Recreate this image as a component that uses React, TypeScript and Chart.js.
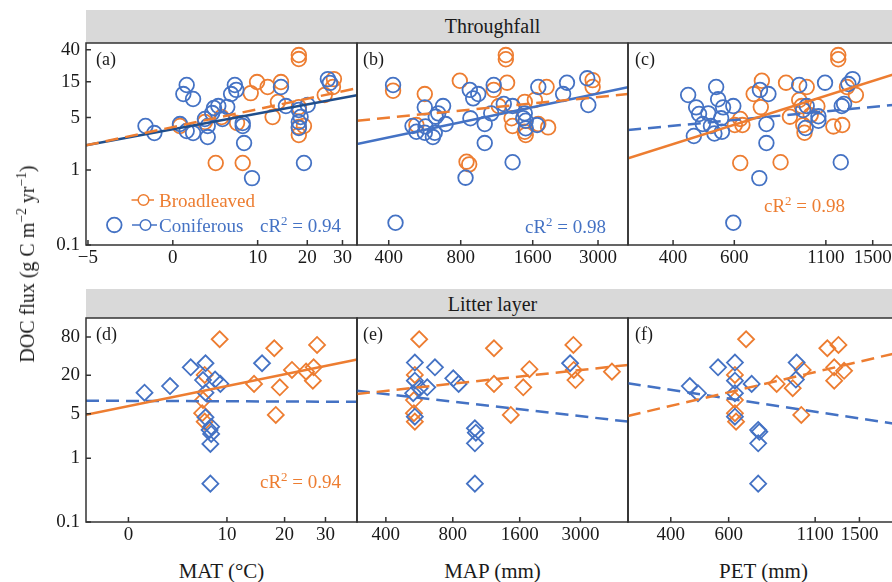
import React, { useEffect, useRef } from "react";
import { Chart, registerables } from "chart.js";

Chart.register(...registerables);

type Pt = [number, number];

const ORANGE = "#ED7D31";
const BLUE = "#4472C4";
const NAVY = "#1F4E8C";
const INK = "#1a1a1a";
const FONT = "'Liberation Serif', 'Times New Roman', serif";

// ---- tick labels ----
const yTicksTop = [0.1, 1, 5, 15, 40];
const yTicksBottom = [0.1, 1, 5, 20, 80];
const matTicksTop = [-5, 0, 10, 20, 30];
const matTicksBottom = [0, 10, 20, 30];
const mapTicks = [400, 800, 1600, 3000];
const petTicks = [400, 600, 1100, 1500];
const MAT_SHIFT = 10; // MAT axis is drawn as log10(MAT + 10)

const stripLabels = ["Throughfall", "Litter layer"];
const xTitles = ["MAT (°C)", "MAP (mm)", "PET (mm)"];
const panelTags = ["(a)", "(b)", "(c)", "(d)", "(e)", "(f)"];
const legendLabels = ["Broadleaved", "Coniferous"];
const cr2Values = ["0.94", "0.98", "0.98", "0.94"];

// ---- Throughfall: MAT ----
const tfMatConif: Pt[] = [
  [-2.0, 3.86], [-1.4, 3.11], [1.2, 13.6], [0.9, 10.3], [1.8, 8.85], [0.6, 4.1], [1.2, 3.31],
  [1.8, 3.11], [3.3, 2.75], [3.3, 3.86], [3.0, 4.79], [3.8, 5.75], [4.0, 6.71], [4.5, 7.13],
  [5.0, 4.79], [5.6, 6.92], [6.1, 10.3], [6.6, 13.6], [6.8, 11.7], [7.7, 4.23], [7.9, 2.29],
  [9.1, 0.78], [14.2, 12.8], [15.2, 7.13], [18, 6.31], [18.4, 5.09], [18, 4.37], [18, 3.63],
  [19.2, 1.24], [20.1, 7.36], [25.5, 16.3], [26.1, 14.5], [-3.8, 0.185], [7.7, 3.86],
];
const tfMatBroad: Pt[] = [
  [18, 34.1], [18, 30.2], [9.9, 14.9], [11.7, 12.8], [14.2, 14.9], [8.9, 10.6], [27.3, 16.3],
  [24.6, 10], [27, 12.8], [13.6, 8.07], [12.6, 5.09], [18, 3.75], [18, 2.93], [19.2, 3.86],
  [4.9, 5.09], [6.9, 4.23], [0.6, 3.86], [4.2, 1.24], [7.7, 1.24], [18, 6.9], [3.0, 4.37],
];
const tfMatBroadFit: Pt[] = [[-5.08, 2.13], [35, 12.3]];
const tfMatConifFit: Pt[] = [[-5.08, 2.13], [35, 9.94]];

// ---- Throughfall: MAP ----
const tfMapConif: Pt[] = [
  [417, 13.6], [427, 0.198], [503, 3.86], [522, 3.24], [566, 6.85], [570, 3.81], [566, 3.14],
  [612, 2.75], [623, 3.14], [629, 5.14], [644, 5.7], [675, 7.13], [692, 4.1], [873, 11.7],
  [902, 9.03], [947, 10.3], [878, 4.89], [838, 0.79], [1008, 4.1], [1008, 2.29], [1099, 13.6],
  [1073, 5.7], [1211, 7.59], [1318, 7.13], [1318, 1.27], [1482, 5.7], [1496, 4.54], [1496, 3.6],
  [1669, 3.98], [1688, 12.8], [2144, 10.3], [2225, 14.6], [2704, 16.7], [2732, 7.36], [1460, 4.9],
];
const tfMapBroad: Pt[] = [
  [417, 11.4], [566, 10.3], [793, 15.5], [1235, 34.1], [1235, 30], [1250, 14.6], [1099, 11.7],
  [846, 1.29], [868, 1.19], [1154, 7.13], [1305, 4.89], [1318, 3.86], [1482, 8.1], [1633, 8.6],
  [1828, 12.8], [1856, 3.7], [1482, 3.24], [1496, 2.93], [1688, 4.1], [2848, 15.8], [2848, 12.8],
  [522, 3.98],
];
const tfMapBroadFit: Pt[] = [[295, 4.54], [4000, 10.3]];
const tfMapConifFit: Pt[] = [[295, 2.22], [4000, 12.7]];

// ---- Throughfall: PET ----
const tfPetConif: Pt[] = [
  [442, 10], [466, 6.85], [475, 5.58], [459, 2.84], [487, 4.1], [505, 5.7], [514, 3.86],
  [532, 12.8], [539, 8.77], [550, 4.89], [526, 3.07], [553, 3.24], [557, 6.85], [596, 7.13],
  [596, 0.198], [708, 0.78], [711, 11.7], [752, 10.3], [742, 4.1], [742, 2.29], [922, 13.6],
  [969, 7.13], [962, 3.63], [1047, 4.54], [1047, 5.2], [1094, 14.6], [1222, 7.13], [1241, 7.59],
  [1214, 1.27], [1313, 16.3], [1277, 14], [946, 6.3],
];
const tfPetBroad: Pt[] = [
  [1194, 34.1], [1194, 30], [720, 15.5], [682, 10.3], [845, 14.6], [969, 12.8], [922, 8.6],
  [937, 7.13], [715, 6.9], [624, 4.8], [602, 3.98], [633, 3.98], [867, 5.14], [955, 3.14],
  [947, 3.98], [1156, 3.81], [1226, 3.98], [1342, 10], [1265, 12.8], [624, 1.24], [815, 1.27],
  [1040, 7.1], [995, 5.4],
];
const tfPetBroadFit: Pt[] = [[297, 1.43], [1784, 19.8]];
const tfPetConifFit: Pt[] = [[297, 3.41], [1784, 7.5]];

// ---- Litter layer: MAT ----
const llMatConif: Pt[] = [
  [1.2, 10.7], [3.4, 13.6], [5.5, 26.8], [7.2, 31], [6.9, 16.9], [8.4, 17.2], [9.1, 14.7],
  [7.2, 10.7], [7.2, 4.4], [7.9, 3.13], [7.9, 2.41], [7.7, 2.78], [7.8, 1.68], [7.8, 0.4], [15.6, 31],
];
const llMatBroad: Pt[] = [
  [9.0, 73.8], [17.9, 53.3], [27.7, 60], [21.6, 24.3], [24.9, 22.9], [26.8, 26.8], [26.6, 16.5],
  [14.2, 14.7], [19, 13], [18.2, 4.78], [7.1, 20.3], [6.9, 8.2], [6.8, 5.1], [7.1, 3.76],
];
const llMatBroadFit: Pt[] = [[-2.58, 4.82], [40, 35.4]];
const llMatConifFit: Pt[] = [[-2.58, 8.0], [40, 7.7]];

// ---- Litter layer: MAP ----
const llMapConif: Pt[] = [
  [540, 31.8], [540, 16.5], [531, 10.5], [567, 12.6], [614, 13], [665, 26.8], [540, 4.5],
  [804, 18], [850, 14.7], [1006, 2.96], [1016, 2.52], [1006, 1.72], [1006, 0.4], [2697, 31],
];
const llMapBroad: Pt[] = [
  [565, 73.8], [1226, 53.3], [2790, 60], [1770, 25], [1660, 13], [1226, 14.7], [1459, 4.78],
  [2800, 24.3], [2850, 16.9], [4160, 22.9], [540, 20.3], [535, 8.2], [535, 5.1], [540, 3.76],
];
const llMapBroadFit: Pt[] = [[296, 10.2], [4923, 29.2]];
const llMapConifFit: Pt[] = [[296, 11.5], [4923, 3.76]];

// ---- Litter layer: PET ----
const llPetConif: Pt[] = [
  [457, 13.6], [484, 10.5], [557, 26.8], [627, 31.8], [627, 16.5], [627, 10.5], [705, 14.7],
  [627, 4.5], [738, 2.78], [744, 2.6], [738, 1.72], [738, 0.4], [966, 31.8], [961, 17.2],
];
const llPetBroad: Pt[] = [
  [678, 73.8], [1198, 53.3], [1295, 60], [1257, 26.8], [1347, 23.6], [1257, 16.5], [1008, 24.3],
  [840, 14.7], [940, 12.6], [998, 4.78], [627, 20.3], [627, 8.2], [627, 5.1], [632, 3.76],
];
const llPetBroadFit: Pt[] = [[296, 4.62], [1982, 45.9]];
const llPetConifFit: Pt[] = [[296, 15], [1982, 3.4]];

// ---- layout (page pixels of each plot area) ----
const COLS = [
  { left: 0, width: 358, showY: true, areaL: 86, areaR: 357 },
  { left: 357, width: 272, showY: false, areaL: 357, areaR: 628 },
  { left: 628, width: 272, showY: false, areaL: 628, areaR: 899 },
];
const ROWS = [
  { top: 23, height: 252, areaT: 43, areaB: 245, yMax: 49.4, yTicks: yTicksTop },
  { top: 298, height: 254, areaT: 318, areaB: 522, yMax: 159, yTicks: yTicksBottom },
];
const PAD_TOP = 20;
const X_AXIS_H = 30;
const Y_AXIS_W = 86;

interface PanelSpec {
  row: number;
  col: number;
  xMin: number;
  xMax: number;
  xTicks: number[];
  shift: number;
  broad: Pt[];
  conif: Pt[];
  broadFit: Pt[];
  conifFit: Pt[];
  broadDash: boolean;
  conifDash: boolean;
  conifFitColor: string;
  marker: string;
  legend?: boolean;
}

const PANELS: PanelSpec[] = [
  { row: 0, col: 0, xMin: -5.08, xMax: 35, xTicks: matTicksTop, shift: MAT_SHIFT, broad: tfMatBroad, conif: tfMatConif, broadFit: tfMatBroadFit, conifFit: tfMatConifFit, broadDash: true, conifDash: false, conifFitColor: NAVY, marker: "circle", legend: true },
  { row: 0, col: 1, xMin: 295, xMax: 4000, xTicks: mapTicks, shift: 0, broad: tfMapBroad, conif: tfMapConif, broadFit: tfMapBroadFit, conifFit: tfMapConifFit, broadDash: true, conifDash: false, conifFitColor: BLUE, marker: "circle" },
  { row: 0, col: 2, xMin: 297, xMax: 1784, xTicks: petTicks, shift: 0, broad: tfPetBroad, conif: tfPetConif, broadFit: tfPetBroadFit, conifFit: tfPetConifFit, broadDash: false, conifDash: true, conifFitColor: BLUE, marker: "circle" },
  { row: 1, col: 0, xMin: -2.58, xMax: 40, xTicks: matTicksBottom, shift: MAT_SHIFT, broad: llMatBroad, conif: llMatConif, broadFit: llMatBroadFit, conifFit: llMatConifFit, broadDash: false, conifDash: true, conifFitColor: BLUE, marker: "rectRot" },
  { row: 1, col: 1, xMin: 296, xMax: 4923, xTicks: mapTicks, shift: 0, broad: llMapBroad, conif: llMapConif, broadFit: llMapBroadFit, conifFit: llMapConifFit, broadDash: true, conifDash: true, conifFitColor: BLUE, marker: "rectRot" },
  { row: 1, col: 2, xMin: 296, xMax: 1982, xTicks: petTicks, shift: 0, broad: llPetBroad, conif: llPetConif, broadFit: llPetBroadFit, conifFit: llPetConifFit, broadDash: true, conifDash: true, conifFitColor: BLUE, marker: "rectRot" },
];

const framePlugin = {
  id: "frameTicks",
  afterDatasetsDraw(chart: any) {
    const { ctx, chartArea: a } = chart;
    ctx.save();
    ctx.strokeStyle = "#333333";
    ctx.lineWidth = 1.5;
    ctx.strokeRect(a.left, a.top, a.right - a.left, a.bottom - a.top);
    ctx.beginPath();
    const xs = chart.scales.x;
    xs.ticks.forEach((t: any) => {
      const p = xs.getPixelForValue(t.value);
      ctx.moveTo(p, a.bottom);
      ctx.lineTo(p, a.bottom - 5);
    });
    const ys = chart.scales.y;
    if (ys.options.display) {
      ys.ticks.forEach((t: any) => {
        const p = ys.getPixelForValue(t.value);
        ctx.moveTo(a.left, p);
        ctx.lineTo(a.left + 5, p);
      });
    }
    ctx.stroke();
    ctx.restore();
  },
};

// legend glyphs "-o-" for panel (a), positioned relative to the chart area
const legendPlugin = {
  id: "legendGlyphs",
  afterDatasetsDraw(chart: any) {
    const { ctx, chartArea: a } = chart;
    const rows = [
      { color: ORANGE, cx: a.left + 57.5, cy: a.top + 157, x0: a.left + 45.5, x1: a.left + 68 },
      { color: BLUE, cx: a.left + 59.5, cy: a.top + 182, x0: a.left + 46, x1: a.left + 71 },
    ];
    ctx.save();
    rows.forEach((r) => {
      ctx.strokeStyle = r.color;
      ctx.lineWidth = 1.5;
      ctx.beginPath();
      ctx.moveTo(r.x0, r.cy);
      ctx.lineTo(r.x1, r.cy);
      ctx.stroke();
      ctx.beginPath();
      ctx.arc(r.cx, r.cy, 5.3, 0, Math.PI * 2);
      ctx.fillStyle = "#ffffff";
      ctx.fill();
      ctx.stroke();
    });
    ctx.restore();
  },
};

function fmtTick(v: number, shift: number): string {
  const n = Math.round((v - shift) * 1000) / 1000;
  return n < 0 ? "\u2212" + String(Math.abs(n)) : String(n);
}

function makeConfig(p: PanelSpec): any {
  const row = ROWS[p.row];
  const col = COLS[p.col];
  const toPts = (arr: Pt[]) => arr.map(([x, y]) => ({ x: x + p.shift, y }));
  const lineDs = (arr: Pt[], color: string, dash: boolean) => ({
    data: toPts(arr),
    showLine: true,
    borderColor: color,
    backgroundColor: color,
    borderWidth: 2.5,
    borderDash: dash ? [13, 7] : [],
    pointRadius: 0,
    fill: false,
  });
  const pointDs = (arr: Pt[], color: string) => ({
    data: toPts(arr),
    showLine: false,
    pointStyle: p.marker,
    pointRadius: p.marker === "circle" ? 7.3 : 8,
    pointBorderWidth: 1.8,
    borderColor: color,
    pointBorderColor: color,
    backgroundColor: "rgba(0,0,0,0)",
    pointBackgroundColor: "rgba(0,0,0,0)",
  });
  const tickFont = { family: FONT, size: 19 };
  const yScale: any = {
    type: "logarithmic",
    display: col.showY,
    min: 0.1,
    max: row.yMax,
    grid: { display: false, drawTicks: false },
    border: { display: false },
    ticks: {
      autoSkip: false,
      padding: 6,
      color: INK,
      font: tickFont,
      callback: (v: number) => String(v),
    },
    afterBuildTicks: (scale: any) => {
      scale.ticks = row.yTicks.map((v) => ({ value: v }));
    },
  };
  if (col.showY) {
    yScale.afterFit = (scale: any) => {
      scale.width = Y_AXIS_W;
    };
  }
  return {
    type: "scatter",
    data: {
      datasets: [
        lineDs(p.broadFit, ORANGE, p.broadDash),
        lineDs(p.conifFit, p.conifFitColor, p.conifDash),
        pointDs(p.conif, BLUE),
        pointDs(p.broad, ORANGE),
      ],
    },
    options: {
      responsive: false,
      maintainAspectRatio: false,
      animation: false,
      events: [],
      layout: { padding: { top: PAD_TOP, right: 1, left: 0, bottom: 0 } },
      plugins: { legend: { display: false }, tooltip: { enabled: false }, title: { display: false } },
      scales: {
        x: {
          type: "logarithmic",
          position: "bottom",
          min: p.xMin + p.shift,
          max: p.xMax + p.shift,
          grid: { display: false, drawTicks: false },
          border: { display: false },
          ticks: {
            autoSkip: false,
            maxRotation: 0,
            minRotation: 0,
            padding: 2,
            color: INK,
            font: tickFont,
            callback: (v: number) => fmtTick(v, p.shift),
          },
          afterBuildTicks: (scale: any) => {
            scale.ticks = p.xTicks.map((v) => ({ value: v + p.shift }));
          },
          afterFit: (scale: any) => {
            scale.height = X_AXIS_H;
          },
        },
        y: yScale,
      },
    },
    plugins: p.legend ? [framePlugin, legendPlugin] : [framePlugin],
  };
}

function Panel({ spec }: { spec: PanelSpec }) {
  const ref = useRef<HTMLCanvasElement>(null);
  useEffect(() => {
    const canvas = ref.current;
    if (!canvas) return;
    const col = COLS[spec.col];
    const row = ROWS[spec.row];
    let L = col.left;
    let T = row.top;
    let W = col.width;
    let H = row.height;
    const apply = () => {
      canvas.width = W;
      canvas.height = H;
      canvas.style.left = L + "px";
      canvas.style.top = T + "px";
      canvas.style.width = W + "px";
      canvas.style.height = H + "px";
    };
    apply();
    let chart = new Chart(canvas, makeConfig(spec));
    // place the canvas so the plot area lands on the facet grid
    for (let k = 0; k < 3; k++) {
      const a = chart.chartArea;
      const err = Math.max(
        Math.abs(L + a.left - col.areaL),
        Math.abs(L + a.right - col.areaR),
        Math.abs(T + a.top - row.areaT),
        Math.abs(T + a.bottom - row.areaB)
      );
      if (err < 0.5) break;
      const padR = W - a.right;
      const padB = H - a.bottom;
      L = col.areaL - a.left;
      T = row.areaT - a.top;
      W = Math.round(col.areaR - L + padR);
      H = Math.round(row.areaB - T + padB);
      chart.destroy();
      apply();
      chart = new Chart(canvas, makeConfig(spec));
    }
    return () => chart.destroy();
  }, [spec]);
  const col = COLS[spec.col];
  const row = ROWS[spec.row];
  return (
    <canvas
      ref={ref}
      width={col.width}
      height={row.height}
      style={{ position: "absolute", left: col.left, top: row.top, width: col.width, height: row.height }}
    />
  );
}

const supStyle: React.CSSProperties = { fontSize: "0.68em", verticalAlign: "super", lineHeight: 0 };

function Label({ left, cy, size, color, children }: { left: number; cy: number; size: number; color: string; children: React.ReactNode }) {
  return (
    <div
      style={{
        position: "absolute",
        left,
        top: cy - size / 2,
        fontSize: size,
        lineHeight: `${size}px`,
        color,
        whiteSpace: "nowrap",
      }}
    >
      {children}
    </div>
  );
}

function Cr2({ left, cy, color, value }: { left: number; cy: number; color: string; value: string }) {
  return (
    <Label left={left} cy={cy} size={19} color={color}>
      cR<span style={supStyle}>2</span> = {value}
    </Label>
  );
}

export default function App() {
  const colCenters = [221.5, 492.5, 763.5];
  return (
    <div
      style={{
        position: "fixed",
        left: 0,
        top: 0,
        width: 892,
        height: 582,
        overflow: "hidden",
        background: "#ffffff",
        fontFamily: FONT,
        color: INK,
      }}
    >
      {/* facet strips */}
      <div style={{ position: "absolute", left: 86, top: 10, width: 813, height: 33, background: "#D9D9D9", textAlign: "center", fontSize: 20, lineHeight: "33px" }}>
        {stripLabels[0]}
      </div>
      <div style={{ position: "absolute", left: 86, top: 289, width: 813, height: 29, background: "#D9D9D9", textAlign: "center", fontSize: 20, lineHeight: "31px" }}>
        {stripLabels[1]}
      </div>

      {PANELS.map((p, i) => (
        <Panel key={i} spec={p} />
      ))}

      {/* panel tags */}
      <Label left={96} cy={59} size={18} color={INK}>{panelTags[0]}</Label>
      <Label left={363} cy={59} size={18} color={INK}>{panelTags[1]}</Label>
      <Label left={635} cy={59} size={18} color={INK}>{panelTags[2]}</Label>
      <Label left={96} cy={334} size={18} color={INK}>{panelTags[3]}</Label>
      <Label left={363} cy={334} size={18} color={INK}>{panelTags[4]}</Label>
      <Label left={635} cy={334} size={18} color={INK}>{panelTags[5]}</Label>

      {/* legend text in (a) */}
      <Label left={159} cy={200} size={19} color={ORANGE}>{legendLabels[0]}</Label>
      <Label left={159} cy={225} size={19} color={BLUE}>{legendLabels[1]}</Label>

      {/* cR2 annotations */}
      <Cr2 left={260} cy={225} color={BLUE} value={cr2Values[0]} />
      <Cr2 left={525} cy={226} color={BLUE} value={cr2Values[1]} />
      <Cr2 left={764} cy={205} color={ORANGE} value={cr2Values[2]} />
      <Cr2 left={260} cy={481} color={ORANGE} value={cr2Values[3]} />

      {/* x axis titles */}
      {xTitles.map((t, i) => (
        <div
          key={t}
          style={{ position: "absolute", left: colCenters[i] - 100, width: 200, top: 560, textAlign: "center", fontSize: 21, lineHeight: "22px", whiteSpace: "nowrap" }}
        >
          {t}
        </div>
      ))}

      {/* y axis title */}
      <div
        style={{
          position: "absolute",
          left: 27,
          top: 264,
          transform: "translate(-50%, -50%) rotate(-90deg)",
          fontSize: 20,
          lineHeight: "24px",
          whiteSpace: "nowrap",
        }}
      >
        DOC flux (g C m<span style={supStyle}>{"\u22122"}</span> yr<span style={supStyle}>{"\u22121"}</span>)
      </div>
    </div>
  );
}
